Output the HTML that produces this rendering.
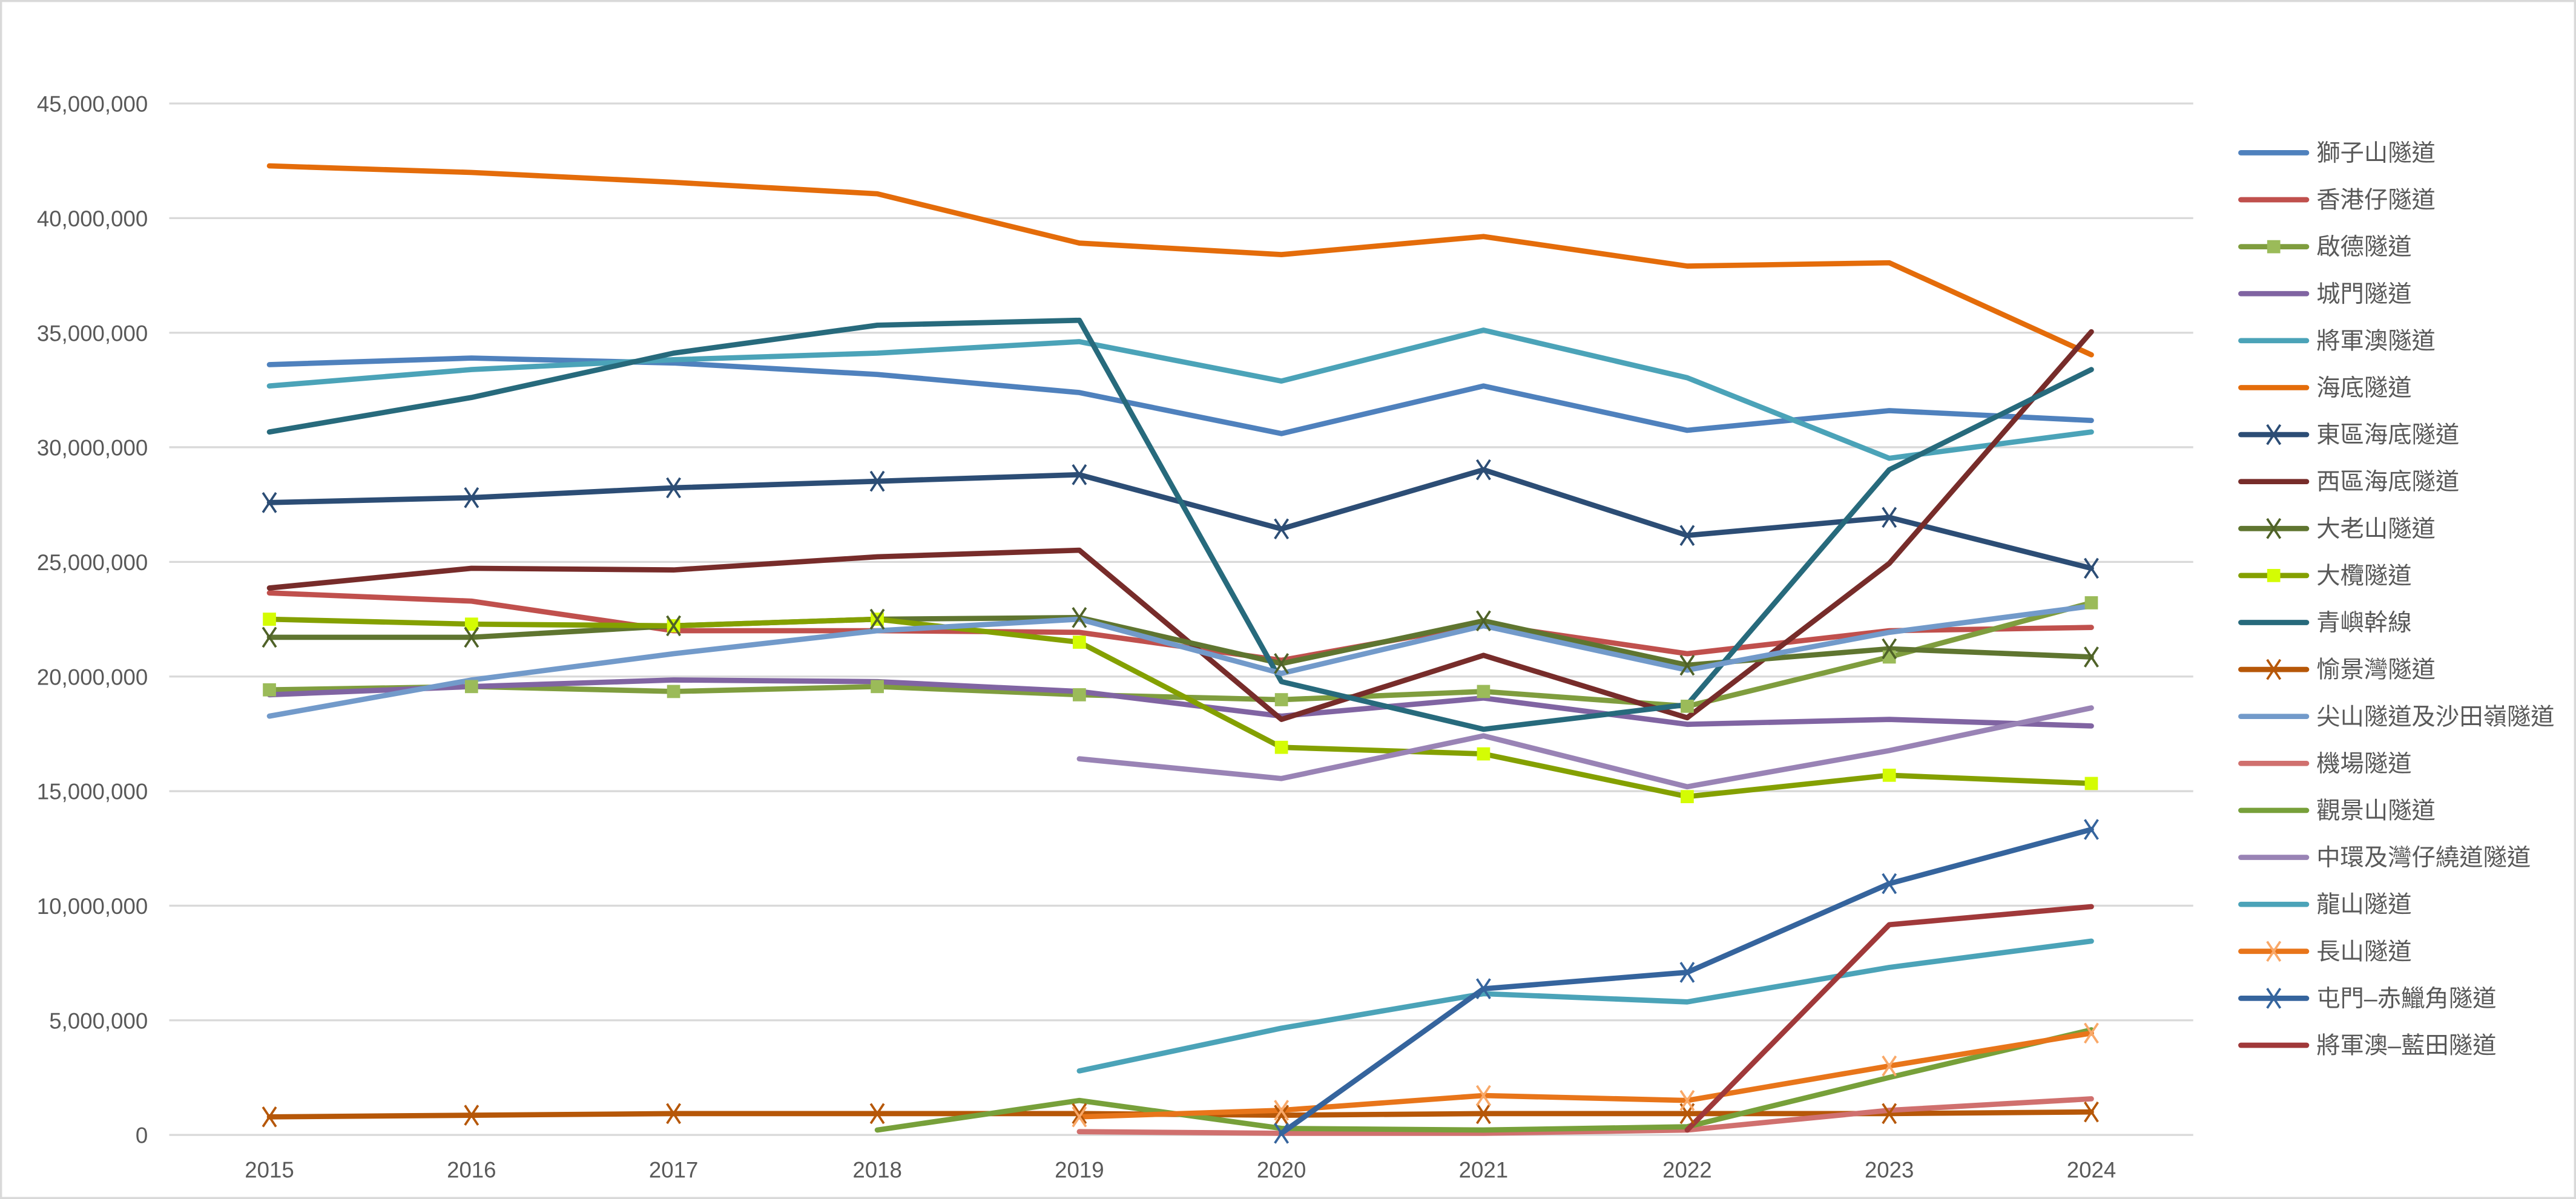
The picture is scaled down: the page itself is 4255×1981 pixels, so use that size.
<!DOCTYPE html>
<html><head><meta charset="utf-8"><style>
html,body{margin:0;padding:0;background:#fff;}
svg{display:block;}
text{font-family:"Liberation Sans","Noto Sans CJK TC",sans-serif;fill:#595959;}
</style></head><body>
<svg width="4255" height="1981" viewBox="0 0 1568 730" preserveAspectRatio="none" xmlns="http://www.w3.org/2000/svg">
<defs>
<path id="xm" d="M-4,-6 L4,6 M-4,6 L4,-6" stroke-width="1.4" fill="none"/>
</defs>
<rect x="0.5" y="0.5" width="1567" height="729" fill="#fff" stroke="#d9d9d9" stroke-width="1.5"/>
<g stroke="#d9d9d9" stroke-width="1.2">
<line x1="103" x2="1335" y1="63" y2="63"/><line x1="103" x2="1335" y1="132.8" y2="132.8"/>
<line x1="103" x2="1335" y1="202.6" y2="202.6"/><line x1="103" x2="1335" y1="272.3" y2="272.3"/>
<line x1="103" x2="1335" y1="342.1" y2="342.1"/><line x1="103" x2="1335" y1="411.9" y2="411.9"/>
<line x1="103" x2="1335" y1="481.7" y2="481.7"/><line x1="103" x2="1335" y1="551.4" y2="551.4"/>
<line x1="103" x2="1335" y1="621.2" y2="621.2"/><line x1="103" x2="1335" y1="691" y2="691"/>
</g>
<g font-size="13.5" text-anchor="end">
<text x="90" y="68">45,000,000</text><text x="90" y="137.8">40,000,000</text>
<text x="90" y="207.6">35,000,000</text><text x="90" y="277.3">30,000,000</text>
<text x="90" y="347.1">25,000,000</text><text x="90" y="416.9">20,000,000</text>
<text x="90" y="486.7">15,000,000</text><text x="90" y="556.4">10,000,000</text>
<text x="90" y="626.2">5,000,000</text><text x="90" y="696">0</text>
</g>
<g font-size="13.5" text-anchor="middle">
<text x="164" y="717">2015</text><text x="287" y="717">2016</text><text x="410" y="717">2017</text>
<text x="534" y="717">2018</text><text x="657" y="717">2019</text><text x="780" y="717">2020</text>
<text x="903" y="717">2021</text><text x="1027" y="717">2022</text><text x="1150" y="717">2023</text>
<text x="1273" y="717">2024</text>
</g>
<g fill="none" stroke-width="3.2" stroke-linejoin="round" stroke-linecap="round">
<polyline stroke="#4F81BD" points="164,222 287,218 410,221 534,228 657,239 780,264 903,235 1027,262 1150,250 1273,256"/>
<polyline stroke="#C0504D" points="164,361 287,366 410,384 534,384 657,385 780,402 903,380 1027,398 1150,384 1273,382"/>
<polyline stroke="#7F9D3E" points="164,420 287,418 410,421 534,418 657,423 780,426 903,421 1027,430 1150,400 1273,367"/>
<polyline stroke="#8064A2" points="164,423 287,418 410,414 534,415 657,421 780,436 903,425 1027,441 1150,438 1273,442"/>
<polyline stroke="#4BA3B8" points="164,235 287,225 410,219 534,215 657,208 780,232 903,201 1027,230 1150,279 1273,263"/>
<polyline stroke="#E46C0A" points="164,101 287,105 410,111 534,118 657,148 780,155 903,144 1027,162 1150,160 1273,216"/>
<polyline stroke="#2C4D75" points="164,306 287,303 410,297 534,293 657,289 780,322 903,286 1027,326 1150,315 1273,346"/>
<polyline stroke="#772C2A" points="164,358 287,346 410,347 534,339 657,335 780,438 903,399 1027,437 1150,343 1273,202"/>
<polyline stroke="#5F7530" points="164,388 287,388 410,381 534,377 657,376 780,404 903,378 1027,405 1150,395 1273,400"/>
<polyline stroke="#84A000" points="164,377 287,380 410,381 534,377 657,391 780,455 903,459 1027,485 1150,472 1273,477"/>
<polyline stroke="#276A7C" points="164,263 287,242 410,215 534,198 657,195 780,415 903,444 1027,429 1150,286 1273,225"/>
<polyline stroke="#B65708" points="164,680 287,679 410,678 534,678 657,678 780,679 903,678 1027,678 1150,678 1273,677"/>
<polyline stroke="#729ACA" points="164,436 287,414 410,398 534,384 657,377 780,410 903,381 1027,408 1150,385 1273,369"/>
<polyline stroke="#D0706E" points="657,689 780,690 903,690 1027,688 1150,676 1273,669"/>
<polyline stroke="#77A03A" points="534,688 657,670 780,687 903,688 1027,686 1150,656 1273,627"/>
<polyline stroke="#9983B5" points="657,462 780,474 903,448 1027,479 1150,457 1273,431"/>
<polyline stroke="#4BA3B8" points="657,652 780,626 903,605 1027,610 1150,589 1273,573"/>
<polyline stroke="#E8751A" points="657,680 780,676 903,667 1027,670 1150,649 1273,629"/>
<polyline stroke="#35649D" points="780,690 903,602 1027,592 1150,538 1273,505"/>
<polyline stroke="#A0393A" points="1027,688 1150,563 1273,552"/>
</g>
<!-- markers -->
<g fill="#9BBB59">
<rect x="160" y="416" width="8" height="8"/><rect x="283" y="414" width="8" height="8"/><rect x="406" y="417" width="8" height="8"/><rect x="530" y="414" width="8" height="8"/><rect x="653" y="419" width="8" height="8"/><rect x="776" y="422" width="8" height="8"/><rect x="899" y="417" width="8" height="8"/><rect x="1023" y="426" width="8" height="8"/><rect x="1146" y="396" width="8" height="8"/><rect x="1269" y="363" width="8" height="8"/>
</g>
<g fill="#D4FC04">
<rect x="160" y="373" width="8" height="8"/><rect x="283" y="376" width="8" height="8"/><rect x="406" y="377" width="8" height="8"/><rect x="530" y="373" width="8" height="8"/><rect x="653" y="387" width="8" height="8"/><rect x="776" y="451" width="8" height="8"/><rect x="899" y="455" width="8" height="8"/><rect x="1023" y="481" width="8" height="8"/><rect x="1146" y="468" width="8" height="8"/><rect x="1269" y="473" width="8" height="8"/>
</g>
<g stroke="#2C4D75">
<use href="#xm" x="164" y="306"/><use href="#xm" x="287" y="303"/><use href="#xm" x="410" y="297"/><use href="#xm" x="534" y="293"/><use href="#xm" x="657" y="289"/><use href="#xm" x="780" y="322"/><use href="#xm" x="903" y="286"/><use href="#xm" x="1027" y="326"/><use href="#xm" x="1150" y="315"/><use href="#xm" x="1273" y="346"/>
</g>
<g stroke="#4F6228">
<use href="#xm" x="164" y="388"/><use href="#xm" x="287" y="388"/><use href="#xm" x="410" y="381"/><use href="#xm" x="534" y="377"/><use href="#xm" x="657" y="376"/><use href="#xm" x="780" y="404"/><use href="#xm" x="903" y="378"/><use href="#xm" x="1027" y="405"/><use href="#xm" x="1150" y="395"/><use href="#xm" x="1273" y="400"/>
</g>
<g stroke="#B65708">
<use href="#xm" x="164" y="680"/><use href="#xm" x="287" y="679"/><use href="#xm" x="410" y="678"/><use href="#xm" x="534" y="678"/><use href="#xm" x="657" y="678"/><use href="#xm" x="780" y="679"/><use href="#xm" x="903" y="678"/><use href="#xm" x="1027" y="678"/><use href="#xm" x="1150" y="678"/><use href="#xm" x="1273" y="677"/>
</g>
<g stroke="#F9A868">
<use href="#xm" x="657" y="680"/><use href="#xm" x="780" y="676"/><use href="#xm" x="903" y="667"/><use href="#xm" x="1027" y="670"/><use href="#xm" x="1150" y="649"/><use href="#xm" x="1273" y="629"/>
</g>
<g stroke="#35649D">
<use href="#xm" x="780" y="690"/><use href="#xm" x="903" y="602"/><use href="#xm" x="1027" y="592"/><use href="#xm" x="1150" y="538"/><use href="#xm" x="1273" y="505"/>
</g>
<!-- legend -->
<g stroke-width="3.2" stroke-linecap="round">
<line x1="1364" x2="1404" y1="93" y2="93" stroke="#4F81BD"/>
<line x1="1364" x2="1404" y1="121.6" y2="121.6" stroke="#C0504D"/>
<line x1="1364" x2="1404" y1="150.2" y2="150.2" stroke="#7F9D3E"/>
<line x1="1364" x2="1404" y1="178.8" y2="178.8" stroke="#8064A2"/>
<line x1="1364" x2="1404" y1="207.4" y2="207.4" stroke="#4BA3B8"/>
<line x1="1364" x2="1404" y1="236" y2="236" stroke="#E46C0A"/>
<line x1="1364" x2="1404" y1="264.6" y2="264.6" stroke="#2C4D75"/>
<line x1="1364" x2="1404" y1="293.2" y2="293.2" stroke="#772C2A"/>
<line x1="1364" x2="1404" y1="321.8" y2="321.8" stroke="#5F7530"/>
<line x1="1364" x2="1404" y1="350.4" y2="350.4" stroke="#84A000"/>
<line x1="1364" x2="1404" y1="379" y2="379" stroke="#276A7C"/>
<line x1="1364" x2="1404" y1="407.6" y2="407.6" stroke="#B65708"/>
<line x1="1364" x2="1404" y1="436.2" y2="436.2" stroke="#729ACA"/>
<line x1="1364" x2="1404" y1="464.8" y2="464.8" stroke="#D0706E"/>
<line x1="1364" x2="1404" y1="493.4" y2="493.4" stroke="#77A03A"/>
<line x1="1364" x2="1404" y1="522" y2="522" stroke="#9983B5"/>
<line x1="1364" x2="1404" y1="550.6" y2="550.6" stroke="#4BA3B8"/>
<line x1="1364" x2="1404" y1="579.2" y2="579.2" stroke="#E8751A"/>
<line x1="1364" x2="1404" y1="607.8" y2="607.8" stroke="#35649D"/>
<line x1="1364" x2="1404" y1="636.4" y2="636.4" stroke="#A0393A"/>
</g>
<rect x="1380" y="146.2" width="8" height="8" fill="#9BBB59"/>
<rect x="1380" y="346.4" width="8" height="8" fill="#D4FC04"/>
<use href="#xm" x="1384" y="264.6" stroke="#2C4D75"/>
<use href="#xm" x="1384" y="321.8" stroke="#4F6228"/>
<use href="#xm" x="1384" y="407.6" stroke="#B65708"/>
<use href="#xm" x="1384" y="579.2" stroke="#F9A868"/>
<use href="#xm" x="1384" y="607.8" stroke="#35649D"/>
<g font-size="14.5">
<text x="1410" y="98">獅子山隧道</text>
<text x="1410" y="126.6">香港仔隧道</text>
<text x="1410" y="155.2">啟德隧道</text>
<text x="1410" y="183.8">城門隧道</text>
<text x="1410" y="212.4">將軍澳隧道</text>
<text x="1410" y="241">海底隧道</text>
<text x="1410" y="269.6">東區海底隧道</text>
<text x="1410" y="298.2">西區海底隧道</text>
<text x="1410" y="326.8">大老山隧道</text>
<text x="1410" y="355.4">大欖隧道</text>
<text x="1410" y="384">青嶼幹線</text>
<text x="1410" y="412.6">愉景灣隧道</text>
<text x="1410" y="441.2">尖山隧道及沙田嶺隧道</text>
<text x="1410" y="469.8">機場隧道</text>
<text x="1410" y="498.4">觀景山隧道</text>
<text x="1410" y="527">中環及灣仔繞道隧道</text>
<text x="1410" y="555.6">龍山隧道</text>
<text x="1410" y="584.2">長山隧道</text>
<text x="1410" y="612.8">屯門–赤鱲角隧道</text>
<text x="1410" y="641.4">將軍澳–藍田隧道</text>
</g>
</svg>
</body></html>
